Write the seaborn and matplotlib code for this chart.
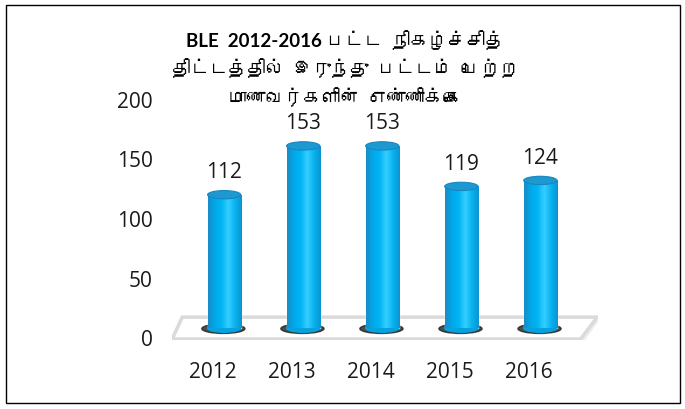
import numpy as np
import matplotlib
matplotlib.use("Agg")
import matplotlib.pyplot as plt
import matplotlib.transforms as mtransforms
from matplotlib import font_manager as fm
from matplotlib.patches import Ellipse, Polygon, Rectangle
from matplotlib.colors import LinearSegmentedColormap
import seaborn as sns

# data
years = ["2012", "2013", "2014", "2015", "2016"]
graduates = [112, 153, 153, 119, 124]
y_ticks = [0, 50, 100, 150, 200]
title_lines = [
    "BLE  2012-2016 பட்ட  நிகழ்ச்சித்",
    "திட்டத்தில்  இருந்து  பட்டம்  பெற்ற",
    "மாணவர்களின்  எண்ணிக்கை",
]

sns.set_style("white")

# find an installed family that can draw Tamil, fall back to DejaVu Sans
tamil_fonts = []
for f in fm.fontManager.ttflist:
    try:
        if 0x0BAA in fm.get_font(f.fname).get_charmap() and f.name not in tamil_fonts:
            tamil_fonts.append(f.name)
    except Exception:
        pass
plt.rcParams["font.family"] = ["Open Sans"] + tamil_fonts + ["DejaVu Sans"]
title_family = ["Lato"] + tamil_fonts + ["DejaVu Sans"]

fig = plt.figure(figsize=(6.85, 4.1), dpi=100)
ax = fig.add_axes([0.2511, 0.1683, 0.6219, 0.6244])

sns.barplot(x=years, y=graduates, width=0.42, color="#00B0F0", saturation=1, ax=ax)

# 3D-looking floor with a soft shadow
ax.add_patch(Polygon([(-0.64, -11.5), (-0.51, 7.0), (4.75, 7.0), (4.55, -11.5)],
                     closed=True, facecolor="#EDEDED", edgecolor="none", zorder=0.4))
ax.add_patch(Polygon([(-0.658, -9.2), (-0.53, 9.2), (4.72, 9.2), (4.51, -9.2)],
                     closed=True, facecolor="white", edgecolor="#DADADA",
                     lw=2.5, zorder=0.5))

cyl = LinearSegmentedColormap.from_list(
    "cyl", ["#1A8CC6", "#00A9EA", "#00B4F3", "#36CEFF", "#08B3EF", "#0A94D1"])
grad = np.linspace(0, 1, 64).reshape(1, -1)

for bar in ax.patches[:len(years)]:
    x0, w, h = bar.get_x(), bar.get_width(), bar.get_height()
    xc = x0 + w / 2
    ax.add_patch(Ellipse((xc - 0.01, -0.5), w * 1.3, 8, color="#202020", alpha=0.8, zorder=1))
    ax.add_patch(Ellipse((xc, 0), w, 7, color="#06A2E0", zorder=2))
    bar.set_zorder(2)
    im = ax.imshow(grad, cmap=cyl, aspect="auto", extent=[x0, x0 + w, 0, h], zorder=3)
    im.set_clip_path(bar)
    ax.add_patch(Ellipse((xc, h), w, 7, facecolor="#1E98D0", edgecolor="#1786C0",
                         lw=0.8, zorder=4))

ax.bar_label(ax.containers[0], padding=9, fontsize=15, color="#1A1A1A")

ax.set_xlim(-0.66, 4.73)
ax.set_ylim(-10, 205)
ax.set_yticks(y_ticks)
ax.tick_params(axis="both", length=0, labelsize=15, colors="#1A1A1A")
ax.tick_params(axis="y", pad=14)
ax.tick_params(axis="x", pad=15)
ax.set_xlabel("")
ax.set_ylabel("")
sns.despine(ax=ax, left=True, bottom=True)
ax.grid(False)

for lab in ax.get_xticklabels():
    lab.set_transform(lab.get_transform() + mtransforms.ScaledTranslation(-11 / 100, 0, fig.dpi_scale_trans))
for lab in ax.get_yticklabels():
    lab.set_transform(lab.get_transform() + mtransforms.ScaledTranslation(0, -9 / 100, fig.dpi_scale_trans))

for i, line in enumerate(title_lines):
    fig.text(345 / 685, 1 - (40 + 28.5 * i) / 410, line, ha="center", va="center",
             fontsize=13.5, fontweight="bold", family=title_family, color="black")

# frame round the whole chart
fig.add_artist(Rectangle((6 / 685, 6 / 410), 674 / 685, 398 / 410, transform=fig.transFigure,
                         fill=False, edgecolor="black", lw=1))

fig.savefig("out.png", dpi=100)
